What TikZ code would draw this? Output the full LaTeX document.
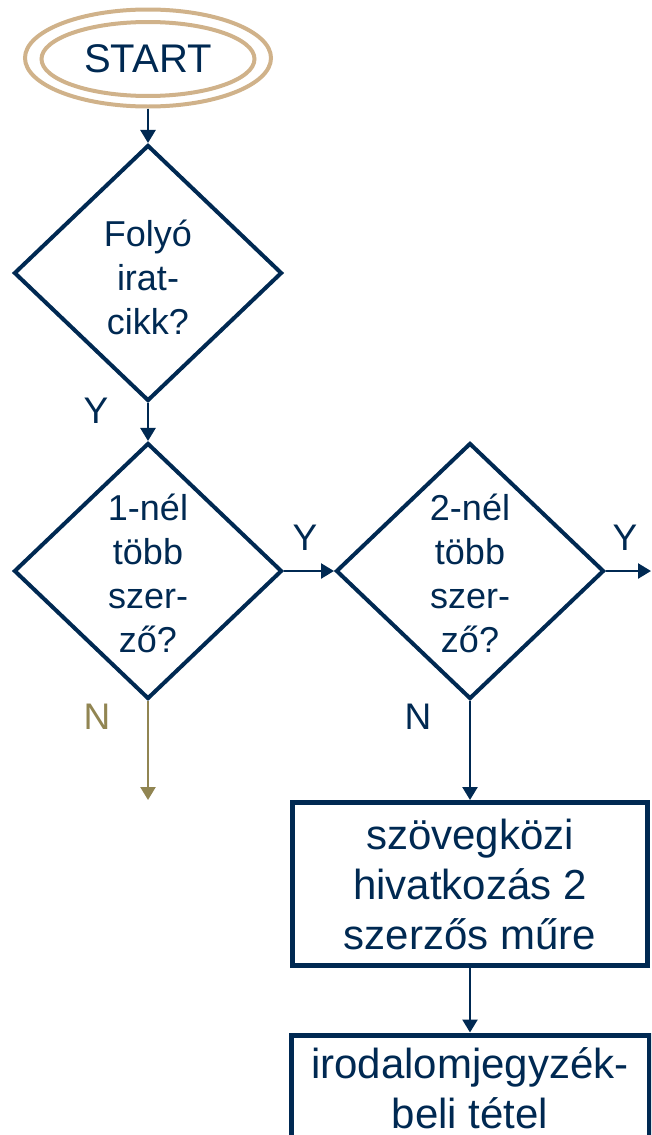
\documentclass[tikz,border=0pt]{standalone}
\usepackage{fontspec}
\setmainfont{Liberation Sans}
\usetikzlibrary{shapes.geometric,arrows.meta}
\definecolor{navy}{RGB}{0,41,82}
\definecolor{tanline}{RGB}{208,178,138}
\definecolor{goldn}{RGB}{145,133,82}
\begin{document}
\begin{tikzpicture}[x=1pt,y=-1pt,
  dia/.style={diamond, draw=navy, line width=4pt, minimum width=268pt, minimum height=256pt, inner sep=0pt},
  dtxt/.style={text=navy, font=\fontsize{36}{44}\selectfont, align=center, inner sep=0pt},
  proc/.style={rectangle, draw=navy, line width=5pt, text=navy, font=\fontsize{42}{50}\selectfont, align=center},
  arr/.style={draw=navy, line width=2.5pt, -{Triangle[length=13pt,width=15pt]}},
  lbl/.style={text=navy, font=\fontsize{37}{44}\selectfont, inner sep=0pt},
  ovl/.style={ellipse, draw=tanline, line width=4pt, inner sep=0pt}
]
\useasboundingbox (0,0) rectangle (651,1135);
\clip (0,0) rectangle (651,1135);

\node[ovl, minimum width=246pt, minimum height=97pt] (start) at (148,58) {};
\node[ovl, minimum width=213pt, minimum height=74pt, text=navy, font=\fontsize{40}{48}\selectfont] (startin) at (148,59) {START};

\node[dia] (d1) at (148,273) {};
\node[dtxt] (t1) at (148,277) {Folyó\\irat-\\cikk?};

\node[dia] (d2) at (148,571) {};
\node[dtxt] (t2) at (148,573) {1-nél\\több\\szer-\\ző?};

\node[dia] (d3) at (470,571) {};
\node[dtxt] (t3) at (470,573) {2-nél\\több\\szer-\\ző?};

\node[proc, minimum width=355pt, minimum height=163pt] (b1) at (470,884) {szövegközi\\hivatkozás 2\\szerzős műre};
\node[proc, minimum width=358pt, minimum height=106pt] (b2) at (470,1088) {irodalomjegyzék-\\beli tétel};

\coordinate (yout) at (651,571);
\coordinate (nout) at (148,800);

\draw[arr] (start) -- (d1);
\draw[arr] (d1) -- (d2);
\draw[arr] (d2) -- (d3);
\draw[arr] (d3) -- (yout);
\draw[arr, draw=goldn] (d2) -- (nout);
\draw[arr] (d3) -- (b1);
\draw[arr] (b1) -- (b2);

\node[lbl] (y1) at (96,411) {Y};
\node[lbl] (y2) at (305,538) {Y};
\node[lbl] (y3) at (625,538) {Y};
\node[lbl, text=goldn] (n1) at (97,717) {N};
\node[lbl] (n2) at (418,717) {N};
\end{tikzpicture}
\end{document}
